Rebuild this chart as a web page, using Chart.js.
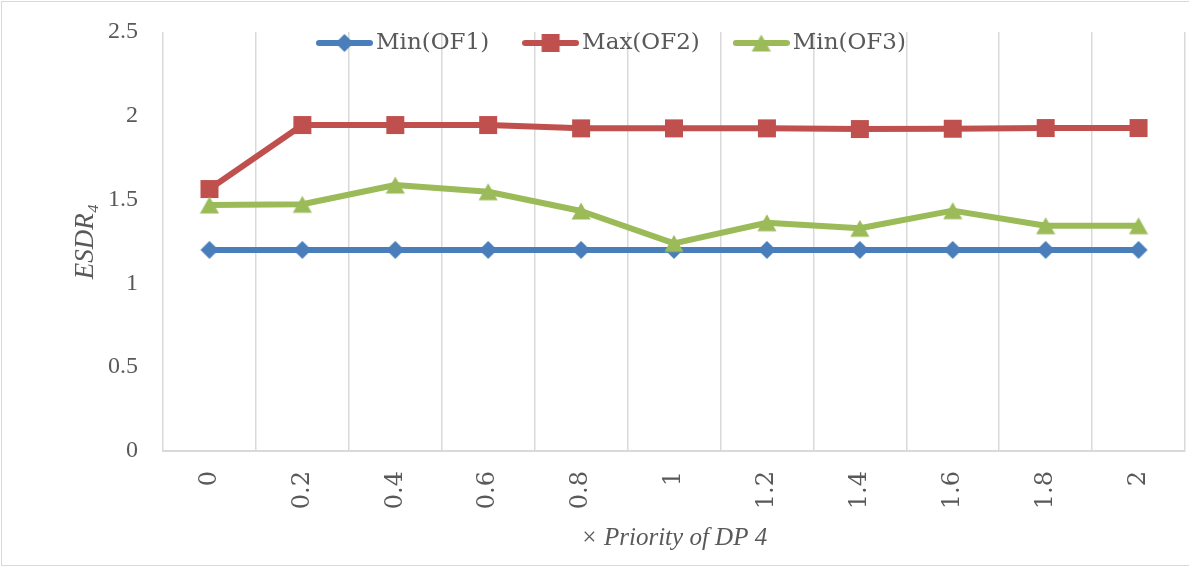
<!DOCTYPE html>
<html><head><meta charset="utf-8">
<script src="https://cdn.jsdelivr.net/npm/chart.js@4.4.1/dist/chart.umd.min.js"></script>
<style>
html,body{margin:0;padding:0;background:#fff;overflow:hidden;width:1189px;height:567px;}
#wrap{position:absolute;left:0;top:0;width:1189px;height:567px;overflow:hidden;background:#fff;}
canvas{position:absolute;left:0;top:0;}
#frame{position:absolute;left:1px;top:1px;width:1300px;height:565px;border:1px solid #d9d9d9;box-sizing:border-box;pointer-events:none;}
</style></head><body>
<div id="wrap"><canvas id="c" width="1200" height="567"></canvas><div id="frame"></div></div>
<script>
const categories = ['0','0.2','0.4','0.6','0.8','1','1.2','1.4','1.6','1.8','2'];
const seriesNames = ['Min(OF1)','Max(OF2)','Min(OF3)'];
const minOF1 = [1.2,1.2,1.2,1.2,1.2,1.2,1.2,1.2,1.2,1.2,1.2];
const maxOF2 = [1.563,1.945,1.945,1.945,1.925,1.925,1.925,1.921,1.923,1.927,1.927];
const minOF3 = [1.468,1.472,1.587,1.547,1.432,1.239,1.362,1.329,1.434,1.344,1.344];
const yRange = [0, 2.5];
const yStep = 0.5;
const yTickLabels = {0:'0', 0.5:'0.5', 1:'1', 1.5:'1.5', 2:'2', 2.5:'2.5'};
const xTitle = '× Priority of DP 4';
const yTitle = 'ESDR₄';

const colors = ['#4a7ebb','#c0504d','#9bbb59'];
const shapes = ['diamond','square','triangle'];

function makeMarker(type, color){
  const c = document.createElement('canvas'); c.width = 20; c.height = 20;
  const g = c.getContext('2d'); g.fillStyle = color; g.beginPath();
  if (type === 'diamond'){ g.moveTo(10,1); g.lineTo(19,10); g.lineTo(10,19); g.lineTo(1,10); }
  else if (type === 'square'){ g.rect(1,1,18,18); }
  else { g.moveTo(10,1.5); g.lineTo(19.5,18.5); g.lineTo(0.5,18.5); }
  g.closePath(); g.fill();
  return c;
}
function makeLegendIcon(marker, color){
  const c = document.createElement('canvas'); c.width = 57; c.height = 22;
  const g = c.getContext('2d');
  g.strokeStyle = color; g.lineWidth = 6; g.lineCap = 'round';
  g.beginPath(); g.moveTo(3,11); g.lineTo(54,11); g.stroke();
  g.drawImage(marker, 28.5-10, 11-10);
  return c;
}
const markers = shapes.map((s,i)=>makeMarker(s, colors[i]));
const icons = markers.map((m,i)=>makeLegendIcon(m, colors[i]));

const legendPlacer = {
  id: 'legendPlacer',
  afterInit(chart){
    const lg = chart.legend;
    const fit = lg.fit;
    lg.fit = function(){ fit.call(this); this.height = 0; };
  },
  afterLayout(chart){
    const lg = chart.legend;
    const pad = lg.options.labels.padding;
    lg.left = 324.5 - pad; lg.right = 1200;
    lg.top = 43 - 11.5 - pad; lg.bottom = 90;
    lg.width = lg.right - lg.left; lg.height = lg.bottom - lg.top;
  }
};

const seriesData = [minOF1, maxOF2, minOF3];
const datasets = seriesData.map((d,i)=>({
  label: seriesNames[i],
  data: d,
  borderColor: colors[i],
  backgroundColor: colors[i],
  borderWidth: 6,
  borderJoinStyle: 'round',
  borderCapStyle: 'round',
  tension: 0,
  pointStyle: markers[i],
  pointRadius: 9,
  pointHoverRadius: 9,
  order: 2 - i
}));

const textColor = '#595959';
new Chart(document.getElementById('c'), {
  type: 'line',
  data: { labels: categories, datasets },
  options: {
    responsive: false,
    animation: false,
    devicePixelRatio: 1,
    layout: { padding: { left: 0, right: 7, top: 32, bottom: 0 } },
    plugins: {
      tooltip: { enabled: false },
      legend: {
        display: true,
        position: 'top',
        align: 'start',
        labels: {
          usePointStyle: true,
          pointStyleWidth: 40,
          padding: 41.5,
          color: textColor,
          font: { family: 'DejaVu Serif', size: 23 },
          generateLabels(chart){
            const items = Chart.defaults.plugins.legend.labels.generateLabels(chart);
            items.sort((a,b)=>a.datasetIndex-b.datasetIndex);
            items.forEach(it=>{ it.pointStyle = icons[it.datasetIndex]; it.fontColor = textColor; });
            return items;
          }
        }
      }
    },
    scales: {
      x: {
        type: 'category',
        offset: true,
        grid: { offset: true, color: '#d9d9d9', lineWidth: 1.5, drawTicks: false },
        border: { color: '#d9d9d9', width: 2 },
        ticks: { minRotation: 90, maxRotation: 90, autoSkip: false, padding: 20, color: textColor,
                 font: { family: 'DejaVu Serif', size: 24 } },
        title: { display: true, text: xTitle, color: textColor,
                 font: { family: 'Liberation Serif', size: 25, style: 'italic' },
                 padding: { top: 0, bottom: 14 } },
        afterFit(s){ s.height = 116; }
      },
      y: {
        min: yRange[0], max: yRange[1],
        grid: { display: false, drawTicks: true, tickLength: 25 },
        border: { display: false },
        ticks: { stepSize: yStep, padding: 0, color: textColor,
                 font: { family: 'Liberation Serif', size: 24 },
                 callback: (v) => yTickLabels[v] !== undefined ? yTickLabels[v] : String(v) },
        title: { display: true, text: yTitle, color: textColor,
                 font: { family: 'Liberation Serif', size: 27, style: 'italic' },
                 padding: { top: 70, bottom: 0 } },
        afterFit(s){ s.width = 163; }
      }
    }
  },
  plugins: [legendPlacer]
});
</script>
</body></html>
